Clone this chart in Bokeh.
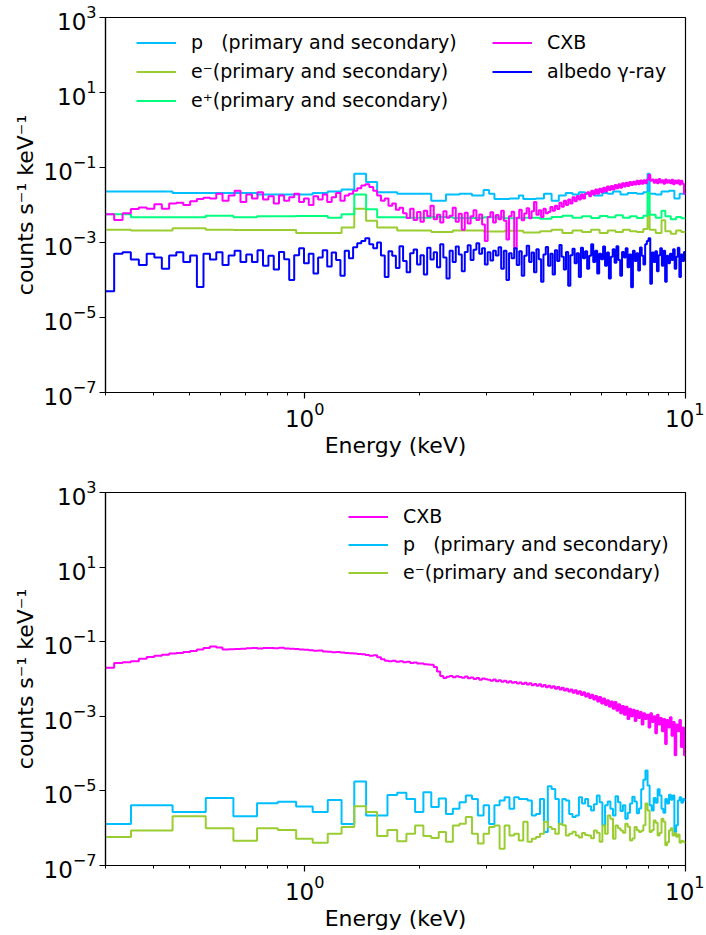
import numpy as np
from bokeh.plotting import figure
from bokeh.layouts import column
from bokeh.models import FixedTicker, Legend, LegendItem
from bokeh.embed import file_html
from bokeh.resources import INLINE

# ---------------- data ----------------
x_range = (0.3, 10.0)
y_range = (1e-7, 1e3)
y_ticks = [1e-7, 1e-5, 1e-3, 1e-1, 1e1, 1e3]
x_major = [1, 10]
x_minor = [0.3, 0.4, 0.5, 0.6, 0.7, 0.8, 0.9, 2, 3, 4, 5, 6, 7, 8, 9]

# ---- top panel: coarse step spectra (bin edges in keV, rates) ----
p_top_edges = [0.30, 0.45, 0.75, 1.05, 1.15, 1.25, 1.35, 1.45, 1.55, 1.75,
               1.95, 2.15, 2.35, 2.55, 2.75, 2.95, 3.05, 3.15, 3.45, 3.65,
               3.75, 4.05, 4.25, 4.45, 4.65, 4.85, 5.05, 5.25, 5.45, 5.75,
               6.05, 6.25, 6.45, 6.75, 7.05, 7.45, 7.75, 7.95, 8.05, 8.35,
               8.65, 9.05, 9.35, 9.65, 10.0]
p_top = [2.3e-2, 2.1e-2, 1.9e-2, 2.1e-2, 2.3e-2, 2.6e-2, 6.8e-2, 4.1e-2, 2.2e-2, 2.0e-2,
         2.0e-2, 1.3e-2, 1.9e-2, 2.0e-2, 1.8e-2, 2.5e-2, 2.0e-2, 1.45e-2, 1.5e-2, 1.8e-2,
         1.45e-2, 1.5e-2, 2.0e-2, 1.3e-2, 1.8e-2, 2.1e-2, 1.9e-2, 2.2e-2, 2.0e-2, 1.8e-2,
         2.1e-2, 2.0e-2, 2.3e-2, 1.9e-2, 2.1e-2, 2.0e-2, 2.2e-2, 6.8e-2, 2.0e-2, 1.9e-2,
         2.3e-2, 2.4e-2, 1.5e-2, 2.0e-2]

ep_top_edges = [0.30, 0.35, 0.55, 0.65, 0.75, 0.95, 1.15, 1.25, 1.35, 1.45,
                1.55, 1.85, 2.15, 2.45, 2.95, 3.35, 3.75, 4.15, 4.45, 4.75,
                5.05, 5.35, 5.65, 5.95, 6.25, 6.55, 6.85, 7.15, 7.45, 7.75,
                7.95, 8.05, 8.35, 8.65, 8.85, 9.15, 9.45, 9.75, 10.0]
ep_top = [5.7e-3, 4.7e-3, 5.2e-3, 4.7e-3, 5.0e-3, 5.1e-3, 4.6e-3, 5.7e-3, 1.9e-2, 7.7e-3,
          4.7e-3, 4.6e-3, 4.8e-3, 4.5e-3, 4.7e-3, 4.4e-3, 4.6e-3, 4.3e-3, 4.8e-3, 5.2e-3,
          4.6e-3, 5.0e-3, 4.5e-3, 5.1e-3, 4.7e-3, 5.3e-3, 4.6e-3, 5.0e-3, 4.5e-3, 5.2e-3,
          2.1e-2, 5.5e-3, 4.6e-3, 7.0e-3, 5.0e-3, 4.2e-3, 4.8e-3, 4.4e-3]

em_top_edges = [0.30, 0.35, 0.45, 0.55, 0.65, 0.95, 1.25, 1.35, 1.45, 1.55,
                1.75, 2.15, 2.45, 2.95, 3.35, 3.75, 4.15, 4.45, 4.75, 5.05,
                5.35, 5.65, 5.95, 6.25, 6.55, 6.85, 7.15, 7.45, 7.75, 7.95,
                8.05, 8.35, 8.65, 8.85, 9.15, 9.45, 9.75, 10.0]
em_top = [2.2e-3, 2.1e-3, 2.4e-3, 2.2e-3, 2.15e-3, 1.8e-3, 2.5e-3, 7.9e-3, 3.8e-3, 2.5e-3,
          2.1e-3, 1.9e-3, 2.1e-3, 1.95e-3, 2.05e-3, 1.85e-3, 2.0e-3, 2.2e-3, 1.8e-3, 2.1e-3,
          1.9e-3, 2.2e-3, 1.8e-3, 2.1e-3, 1.9e-3, 2.2e-3, 2.0e-3, 1.9e-3, 2.3e-3, 7.1e-3,
          2.2e-3, 1.8e-3, 3.9e-3, 2.0e-3, 1.7e-3, 2.1e-3, 1.9e-3]

# ---- fine-channel spectra: 180 channels, uniform in sqrt(E) from 0.3 to 10 keV ----
cxb_top = [5.7e-3, 4.0e-3,
           6.0e-3, 7.8e-3, 8.6e-3, 8.0e-3,
           1.05e-2, 8.0e-3, 1.1e-2,
           1.15e-2, 1.0e-2, 1.25e-2,
           1.45e-2, 1.55e-2,
           1.5e-2, 2.0e-2, 1.3e-2, 1.8e-2, 2.4e-2, 1.2e-2, 1.9e-2, 1.5e-2,
           2.2e-2, 1.4e-2, 1.7e-2, 1.1e-2, 1.8e-2, 1.3e-2, 1.6e-2, 2.0e-2, 1.2e-2, 1.5e-2,
           1.0e-2, 1.7e-2, 1.4e-2, 1.9e-2, 1.2e-2, 1.6e-2, 2.1e-2, 1.3e-2, 1.8e-2,
           2.0e-2, 2.4e-2, 2.8e-2, 3.3e-2, 3.6e-2, 3.0e-2,
           2.4e-2, 1.8e-2, 1.3e-2, 1.5e-2, 9.5e-3, 1.1e-2, 7.5e-3, 8.5e-3,
           6.0e-3, 4.5e-3, 8.0e-3, 4.0e-3, 6.5e-3, 3.6e-3, 7.0e-3, 5.0e-3, 9.5e-3, 4.2e-3,
           5.5e-3, 3.4e-3, 6.8e-3, 4.6e-3, 5.2e-3, 8.5e-3, 3.6e-3, 5.8e-3, 2.2e-3, 6.2e-3,
           3.2e-3, 5.0e-3, 7.2e-3, 4.0e-3, 5.6e-3, 3.0e-3, 1.1e-3, 4.8e-3, 6.4e-3, 3.4e-3,
           5.4e-3, 4.2e-3, 7.0e-3, 3.8e-3, 1.2e-3, 5.0e-3, 6.6e-3, 7.0e-4, 4.6e-3, 7.5e-3,
           3.9e-3, 5.9e-3, 8.2e-3, 4.4e-3, 6.8e-3, 1.2e-2, 5.5e-3, 7.2e-3, 4.8e-3, 8.0e-3, 6.0e-3,
           6.5e-3, 8.8e-3, 7.0e-3,
           9.5e-3, 7.8e-3, 1.15e-2, 9.0e-3, 1.3e-2, 1.0e-2, 1.4e-2, 1.1e-2, 1.6e-2, 1.25e-2,
           1.75e-2, 1.4e-2, 1.9e-2, 1.5e-2, 2.0e-2,
           2.2e-2, 1.7e-2, 2.4e-2, 1.9e-2, 2.6e-2, 2.0e-2, 2.7e-2, 2.2e-2, 2.9e-2, 2.3e-2,
           3.1e-2, 2.5e-2, 3.2e-2, 2.6e-2, 3.4e-2, 2.8e-2, 3.6e-2, 2.9e-2, 3.8e-2, 3.1e-2,
           3.9e-2, 3.2e-2, 4.1e-2, 3.4e-2, 4.2e-2, 3.5e-2, 4.4e-2, 3.6e-2, 4.5e-2, 3.7e-2,
           4.6e-2, 3.8e-2,
           4.8e-2, 6.4e-2, 4.4e-2,
           4.8e-2, 3.9e-2, 4.7e-2, 3.8e-2, 4.9e-2, 4.0e-2, 4.6e-2, 3.7e-2, 4.8e-2, 3.9e-2,
           4.6e-2, 3.8e-2, 4.7e-2, 3.6e-2, 4.5e-2, 3.8e-2, 4.6e-2, 3.5e-2, 4.4e-2, 3.7e-2, 2.0e-2]

albedo_top = [5e-5, 5.0e-4, 5.5e-4, 3.5e-4, 2.5e-4, 5.0e-4, 4.0e-4, 2.0e-4, 4.5e-4, 5.5e-4,
              3.0e-4, 4.5e-4, 6.5e-5, 5.0e-4, 3.5e-4, 5.5e-4, 2.5e-4, 4.5e-4, 6.0e-4, 3.0e-4,
              4.8e-4, 3.0e-4, 6.2e-4, 2.4e-4, 4.4e-4, 1.9e-4, 5.6e-4, 3.6e-4, 1.0e-4, 4.6e-4,
              7.0e-4, 2.8e-4, 5.0e-4, 1.5e-4, 4.0e-4, 6.2e-4, 2.3e-4, 5.4e-4, 3.4e-4, 1.3e-4,
              6.0e-4, 3.8e-4, 7.5e-4, 9.5e-4, 1.1e-3, 1.3e-3, 9.0e-4, 7.0e-4, 1.0e-3, 4.5e-4,
              1.2e-4, 5.8e-4, 4.4e-4, 2.1e-4, 8.0e-4, 3.2e-4, 1.6e-4, 5.2e-4, 6.5e-4, 2.6e-4,
              4.6e-4, 1.4e-4, 7.2e-4, 3.5e-4, 5.5e-4, 2.2e-4, 9.0e-4, 4.0e-4, 1.1e-4, 6.0e-4,
              3.0e-4, 7.8e-4, 4.8e-4, 1.7e-4, 5.6e-4, 8.5e-4, 3.4e-4, 6.4e-4, 9.5e-4, 5.0e-4,
              7.0e-4, 2.6e-4, 5.5e-4, 3.3e-4, 6.0e-4, 4.5e-4, 7.5e-4, 2.0e-4, 6.0e-4, 1.0e-4,
              5.2e-4, 3.8e-4, 7.0e-4, 2.5e-4, 5.8e-4, 1.3e-4, 4.4e-4, 8.2e-4, 3.0e-4, 5.4e-4,
              1.6e-4, 6.6e-4, 3.6e-4, 9.0e-5, 4.8e-4, 7.6e-4, 2.4e-4, 5.0e-4, 1.4e-4, 6.2e-4,
              3.2e-4, 8.6e-4, 4.2e-4, 1.9e-4, 5.6e-4, 7.0e-5, 4.6e-4, 6.8e-4, 2.8e-4, 5.2e-4,
              1.2e-4, 7.2e-4, 3.8e-4, 5.8e-4, 2.0e-4, 4.4e-4, 9.0e-4, 3.0e-4, 6.0e-4, 1.5e-4,
              5.0e-4, 3.6e-4, 7.8e-4, 2.4e-4, 5.4e-4, 1.1e-4, 4.2e-4, 6.6e-4, 2.9e-4, 8.0e-4,
              3.4e-4, 1.3e-4, 5.6e-4, 4.0e-4, 7.0e-4, 2.2e-4, 4.8e-4, 6.4e-5, 6.0e-4, 3.2e-4,
              5.2e-4, 1.8e-4, 7.4e-4, 4.4e-4, 2.6e-4, 9.0e-4, 1.1e-3, 1.3e-3, 8.0e-5, 5.4e-4,
              3.0e-4, 5.8e-4, 1.7e-4, 4.6e-4, 7.0e-4, 2.4e-4, 6.0e-4, 9.0e-5, 4.4e-4, 2.8e-4,
              5.0e-4, 3.4e-4, 6.6e-4, 2.0e-4, 4.2e-4, 7.2e-4, 1.2e-4, 4.8e-4, 3.2e-4, 5.6e-4]

cxb_bot = [2.0e-2, 2.7e-2,
           2.8e-2, 3.0e-2,
           3.5e-2, 3.9e-2,
           4.2e-2, 4.5e-2, 4.8e-2,
           5.0e-2, 5.3e-2, 5.6e-2,
           6.2e-2, 6.8e-2,
           7.4e-2, 7.0e-2,
           6.2e-2, 6.3e-2,
           6.4e-2, 6.5e-2,
           6.7e-2, 6.8e-2, 6.6e-2, 6.8e-2,
           6.8e-2, 6.7e-2, 6.9e-2, 6.6e-2,
           6.5e-2, 6.4e-2, 6.2e-2, 6.1e-2,
           5.9e-2, 5.7e-2, 5.8e-2, 5.5e-2,
           5.4e-2, 5.2e-2, 5.3e-2, 5.1e-2,
           5.0e-2, 4.9e-2, 4.8e-2, 4.7e-2,
           4.6e-2, 4.4e-2, 4.2e-2, 4.3e-2,
           3.8e-2, 3.4e-2, 3.1e-2,
           3.0e-2, 3.1e-2, 2.9e-2, 3.0e-2,
           2.8e-2, 2.9e-2, 2.7e-2, 2.75e-2, 2.6e-2,
           2.6e-2, 2.5e-2, 2.45e-2, 2.4e-2,
           2.1e-2, 1.6e-2,
           1.2e-2, 1.07e-2,
           1.15e-2, 1.2e-2, 1.12e-2, 1.18e-2,
           1.14e-2, 1.08e-2, 1.16e-2, 1.04e-2, 1.1e-2,
           1.0e-2, 1.06e-2, 9.6e-3, 1.03e-2, 9.8e-3,
           9.5e-3, 9.0e-3, 9.7e-3, 8.7e-3, 9.2e-3,
           8.5e-3, 9.0e-3, 8.1e-3, 8.7e-3, 7.9e-3,
           8.3e-3, 7.6e-3, 8.1e-3, 7.3e-3, 7.9e-3,
           7.1e-3, 7.7e-3, 6.8e-3, 7.4e-3, 6.6e-3,
           7.2e-3, 6.3e-3, 6.9e-3, 6.0e-3, 6.6e-3,
           5.8e-3, 6.4e-3, 5.5e-3, 6.1e-3, 5.2e-3,
           5.8e-3, 4.9e-3, 5.5e-3, 4.6e-3, 5.2e-3,
           4.3e-3, 5.0e-3, 4.0e-3, 4.7e-3, 3.7e-3,
           4.4e-3, 3.4e-3, 4.1e-3, 3.1e-3, 3.8e-3,
           2.8e-3, 3.5e-3, 2.5e-3, 3.3e-3, 2.2e-3,
           3.0e-3, 2.0e-3, 2.7e-3, 1.8e-3, 2.5e-3,
           1.6e-3, 2.4e-3, 1.4e-3, 2.1e-3, 1.2e-3,
           1.9e-3, 1.1e-3, 1.8e-3, 8.5e-4, 1.6e-3,
           1.0e-3, 1.5e-3, 7.5e-4, 1.4e-3, 9.0e-4,
           1.3e-3, 6.0e-4, 1.2e-3, 8.5e-4, 1.1e-3,
           5.0e-4, 1.2e-3, 7.0e-4, 1.0e-3, 3.5e-4,
           1.1e-3, 6.0e-4, 9.0e-4, 4.0e-4, 8.5e-4,
           1.8e-4, 8.0e-4, 5.0e-4, 9.5e-4, 3.0e-4,
           7.0e-4, 9.0e-5, 6.0e-4, 4.0e-4, 8.0e-4,
           1.5e-4, 5.0e-4, 9.0e-5]

# ---- bottom panel: 0.1 keV bins (first bin 0.30-0.35 keV) ----
p_bot = [1.3e-6, 4.1e-6, 2.7e-6, 6.5e-6, 2.1e-6, 4.7e-6, 5.1e-6, 3.8e-6, 2.7e-6, 5.7e-6,
         1.3e-6, 1.8e-5, 2.2e-6, 2.2e-6, 7.8e-6, 8.9e-6, 6.1e-6, 2.7e-6, 9.2e-6, 3.7e-6,
         6.3e-6, 2.4e-6, 3.3e-6, 5.0e-6, 7.5e-6, 6.1e-6, 2.2e-6, 4.1e-6, 1.3e-6, 4.1e-6,
         5.5e-6, 6.8e-6, 3.3e-6, 6.8e-6, 6.1e-6, 6.1e-6, 5.5e-6, 2.2e-6, 2.4e-6, 6.1e-6,
         7.9e-7, 1.33e-5, 1.13e-5, 6.1e-6, 1.3e-6, 6.1e-6, 5.5e-6, 2.4e-6, 2.0e-6, 2.2e-6,
         6.8e-6, 4.6e-6, 6.1e-6, 3.9e-6, 3.0e-6, 4.4e-6, 7.5e-6, 5.0e-6, 1.2e-6, 4.1e-6,
         5.2e-6, 3.3e-6, 2.2e-6, 7.2e-6, 5.0e-6, 2.9e-6, 4.1e-6, 1.8e-6, 2.6e-6, 4.6e-6,
         7.0e-6, 5.2e-6, 2.5e-6, 3.4e-6, 1.1e-5, 2.0e-5, 3.5e-5, 1.4e-5, 4.1e-6, 3.0e-6,
         6.5e-6, 4.8e-6, 1.1e-5, 7.5e-6, 3.3e-6, 2.6e-6, 6.1e-6, 4.6e-6, 7.9e-6, 5.8e-6,
         7.5e-6, 7.9e-7, 1.2e-6, 5.5e-6, 6.8e-6, 4.8e-6, 6.1e-6, 5.5e-6]

em_bot = [5.8e-7, 8.7e-7, 2.1e-6, 1.0e-6, 4.6e-7, 1.0e-6, 9.0e-7, 5.2e-7, 4.1e-7, 7.1e-7,
          1.07e-6, 3.9e-6, 2.7e-6, 6.2e-7, 8.9e-7, 4.5e-7, 7.1e-7, 1.19e-6, 6.2e-7, 5.5e-7,
          7.9e-7, 4.3e-7, 1.19e-6, 1.32e-6, 2.0e-6, 7.1e-7, 3.9e-7, 7.1e-7, 1.07e-6, 1.19e-6,
          2.8e-7, 1.19e-6, 6.4e-7, 7.1e-7, 4.7e-7, 1.5e-6, 4.3e-7, 5.2e-7, 5.8e-7, 7.1e-7,
          1.5e-6, 1.07e-6, 9.5e-7, 7.1e-7, 1.32e-6, 1.2e-6, 6.4e-7, 7.1e-7, 8.0e-7, 6.4e-7,
          5.6e-7, 7.4e-7, 6.6e-7, 6.4e-7, 5.4e-7, 8.7e-7, 7.6e-7, 4.3e-7, 1.19e-6, 7.1e-7,
          2.2e-6, 1.8e-6, 5.2e-7, 1.19e-6, 1.0e-6, 8.7e-7, 7.6e-7, 1.32e-6, 1.1e-6, 4.7e-7,
          5.3e-7, 1.07e-6, 8.8e-7, 7.9e-7, 8.5e-7, 1.2e-6, 4.6e-6, 3.0e-6, 7.9e-7, 8.8e-7,
          1.6e-6, 1.4e-6, 6.4e-7, 7.4e-7, 1.8e-6, 1.5e-6, 3.5e-7, 4.2e-7, 8.7e-7, 1.0e-6,
          6.4e-7, 7.3e-7, 5.9e-7, 6.8e-7, 4.1e-7, 4.6e-7, 4.3e-7, 4.1e-7]

labels = {
    "p": "p\u00a0\u00a0\u00a0(primary and secondary)",
    "em": "e\u207b(primary and secondary)",
    "ep": "e\u207a(primary and secondary)",
    "cxb": "CXB",
    "alb": "albedo \u03b3-ray",
}
colors = {"p": "#00BFFF", "em": "#9ACD32", "ep": "#00FF7F", "cxb": "#FF00FF", "alb": "#0000FF"}

# ---------------- helpers ----------------
FONT = "DejaVu Sans"


def channel_edges(n):
    s = np.linspace(np.sqrt(x_range[0]), np.sqrt(x_range[1]), n + 1)
    return list(s ** 2)


def tenth_kev_edges(n):
    return [0.3] + [round(0.35 + 0.1 * k, 2) for k in range(n - 1)] + [10.0]


def step(fig, edges, vals, color):
    xs = list(edges)
    ys = list(vals) + [vals[-1]]
    return fig.step(xs, ys, mode="after", line_color=color, line_width=2)


def make_fig(height, top_border, bottom_border):
    f = figure(x_axis_type="log", y_axis_type="log", x_range=x_range, y_range=y_range,
               width=704, height=height,
               min_border_left=105, min_border_right=19, min_border_top=top_border,
               min_border_bottom=bottom_border,
               output_backend="svg", toolbar_location=None)
    f.xgrid.visible = False
    f.ygrid.visible = False
    f.background_fill_color = "white"
    f.border_fill_color = "white"
    f.outline_line_color = "black"
    f.outline_line_width = 1.2
    f.outline_line_alpha = 1.0
    f.xaxis.ticker = FixedTicker(ticks=x_major, minor_ticks=x_minor)
    f.yaxis.ticker = FixedTicker(ticks=y_ticks, minor_ticks=[])
    for ax in (f.xaxis[0], f.yaxis[0]):
        ax.axis_line_color = "black"
        ax.axis_line_width = 1.2
        ax.major_tick_line_color = "black"
        ax.minor_tick_line_color = "black"
        ax.major_tick_line_width = 1.2
        ax.minor_tick_line_width = 1.0
        ax.major_tick_out = 6
        ax.major_tick_in = 0
        ax.minor_tick_out = 3
        ax.minor_tick_in = 0
        ax.major_label_text_font = FONT
        ax.major_label_text_font_size = "23px"
        ax.major_label_text_color = "black"
        ax.major_label_standoff = 3
        ax.axis_label_text_font = FONT
        ax.axis_label_text_font_size = "22px"
        ax.axis_label_text_font_style = "normal"
        ax.axis_label_text_color = "black"
        ax.axis_label_standoff = 3
    f.xaxis.axis_label = "Energy (keV)"
    f.yaxis.axis_label = "counts s\u207b\u00b9 keV\u207b\u00b9"
    return f


def add_legend(fig, items, loc, spacing):
    leg = Legend(items=[LegendItem(label=lab, renderers=[r]) for lab, r in items],
                 location=loc)
    leg.border_line_alpha = 0
    leg.background_fill_alpha = 0
    leg.padding = 0
    leg.margin = 0
    leg.spacing = spacing
    leg.glyph_width = 40
    leg.glyph_height = 21
    leg.label_height = 21
    leg.label_standoff = 15
    leg.label_text_font = FONT
    leg.label_text_font_size = "19px"
    leg.label_text_color = "black"
    fig.add_layout(leg)


# ---------------- top panel ----------------
p1 = make_fig(471, 17, 79)
r_p = step(p1, p_top_edges, p_top, colors["p"])
r_em = step(p1, em_top_edges, em_top, colors["em"])
r_ep = step(p1, ep_top_edges, ep_top, colors["ep"])
r_cxb = step(p1, channel_edges(len(cxb_top)), cxb_top, colors["cxb"])
r_alb = step(p1, channel_edges(len(albedo_top)), albedo_top, colors["alb"])
add_legend(p1, [(labels["p"], r_p), (labels["em"], r_em), (labels["ep"], r_ep)], (31, 281), 7)
add_legend(p1, [(labels["cxb"], r_cxb), (labels["alb"], r_alb)], (387, 310), 7)

# ---------------- bottom panel ----------------
p2 = make_fig(462, 21, 66)
b_cxb = step(p2, channel_edges(len(cxb_bot)), cxb_bot, colors["cxb"])
b_p = step(p2, tenth_kev_edges(len(p_bot)), p_bot, colors["p"])
b_em = step(p2, tenth_kev_edges(len(em_bot)), em_bot, colors["em"])
add_legend(p2, [(labels["cxb"], b_cxb), (labels["p"], b_p), (labels["em"], b_em)], (243, 282), 6)

layout = column(p1, p2, spacing=0)
open("out.html", "w").write(file_html(layout, INLINE))
